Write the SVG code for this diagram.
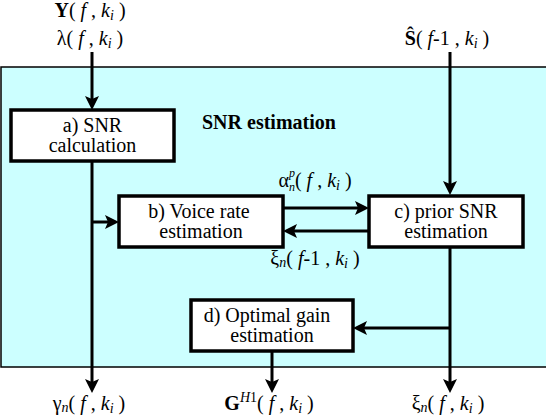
<svg xmlns="http://www.w3.org/2000/svg" width="546" height="420" viewBox="0 0 546 420">
<style>
text{font-family:"Liberation Serif","Times New Roman",serif;font-size:20px;fill:#000}
.box{fill:#fff;stroke:#000;stroke-width:3.5}
.c{fill:none;stroke:#000;stroke-width:3;marker-end:url(#ah)}
.it{font-style:italic}
.b{font-weight:bold}
.sub{font-size:14px;font-style:italic}
.sm{font-size:12px;font-style:italic}
</style>
<defs>
<marker id="ah" markerUnits="userSpaceOnUse" markerWidth="16" markerHeight="16" viewBox="0 -8 16 16" refX="4" refY="0" orient="auto">
<path d="M0,-7 L14,0 L0,7 L3,0 Z" fill="#000"/>
</marker>
</defs>
<rect id="panel" x="1" y="67" width="550" height="300" fill="#CCFFFF" stroke="#000" stroke-width="1.5"/>
<text id="title" x="202" y="129" class="b">SNR estimation</text>
<g id="connectors">
<path class="c" d="M92,52 V100"/>
<path class="c" d="M92,161 V383"/>
<path class="c" d="M92,222 H109"/>
<path class="c" d="M283,208 H359"/>
<path class="c" d="M369,231 H293"/>
<path class="c" d="M450,52 V185"/>
<path class="c" d="M450,247 V383"/>
<path class="c" d="M450,328 H363"/>
<path class="c" d="M272,351 V383"/>
</g>
<g id="a">
<rect class="box" x="11" y="110" width="163" height="51"/>
<text x="92.5" y="132" text-anchor="middle">a) SNR</text>
<text x="92.5" y="152" text-anchor="middle">calculation</text>
</g>
<g id="b">
<rect class="box" x="119" y="196" width="164" height="51"/>
<text x="199" y="218" text-anchor="middle">b) Voice rate</text>
<text x="201" y="238" text-anchor="middle">estimation</text>
</g>
<g id="c">
<rect class="box" x="369" y="196" width="154" height="51"/>
<text x="446" y="218" text-anchor="middle">c) prior SNR</text>
<text x="446" y="238" text-anchor="middle">estimation</text>
</g>
<g id="d">
<rect class="box" x="191" y="300" width="162" height="51"/>
<text x="267" y="322" text-anchor="middle">d) Optimal gain</text>
<text x="272" y="342" text-anchor="middle">estimation</text>
</g>
<g id="labels">
<text x="90" y="17" text-anchor="middle"><tspan class="b">Y</tspan>( <tspan class="it">f</tspan> , <tspan class="it">k</tspan><tspan class="sub" dy="3">i</tspan><tspan dy="-3"> )</tspan></text>
<text x="90" y="45" text-anchor="middle">λ( <tspan class="it">f</tspan> , <tspan class="it">k</tspan><tspan class="sub" dy="3">i</tspan><tspan dy="-3"> )</tspan></text>
<text x="447" y="45" text-anchor="middle"><tspan class="b">Ŝ</tspan>( <tspan class="it">f</tspan>-1 , <tspan class="it">k</tspan><tspan class="sub" dy="3">i</tspan><tspan dy="-3"> )</tspan></text>
<text x="315" y="187" text-anchor="middle">α<tspan class="sm" dy="-10">p</tspan><tspan class="sm" dx="-6" dy="14">n</tspan><tspan dy="-4">( <tspan class="it">f</tspan> , <tspan class="it">k</tspan><tspan class="sub" dy="3">i</tspan><tspan dy="-3"> )</tspan></tspan></text>
<text x="315" y="265" text-anchor="middle">ξ<tspan class="sub" dy="2">n</tspan><tspan dy="-2">( <tspan class="it">f</tspan>-1 , <tspan class="it">k</tspan><tspan class="sub" dy="3">i</tspan><tspan dy="-3"> )</tspan></tspan></text>
<text x="89" y="410" text-anchor="middle">γ<tspan class="sub" dy="2">n</tspan><tspan dy="-2">( <tspan class="it">f</tspan> , <tspan class="it">k</tspan><tspan class="sub" dy="3">i</tspan><tspan dy="-3"> )</tspan></tspan></text>
<text x="269" y="410" text-anchor="middle"><tspan class="b">G</tspan><tspan class="sub" dy="-8">H</tspan><tspan font-size="14">1</tspan><tspan dy="8">( <tspan class="it">f</tspan> , <tspan class="it">k</tspan><tspan class="sub" dy="3">i</tspan><tspan dy="-3"> )</tspan></tspan></text>
<text x="448" y="410" text-anchor="middle">ξ<tspan class="sub" dy="2">n</tspan><tspan dy="-2">( <tspan class="it">f</tspan> , <tspan class="it">k</tspan><tspan class="sub" dy="3">i</tspan><tspan dy="-3"> )</tspan></tspan></text>
</g>
</svg>
